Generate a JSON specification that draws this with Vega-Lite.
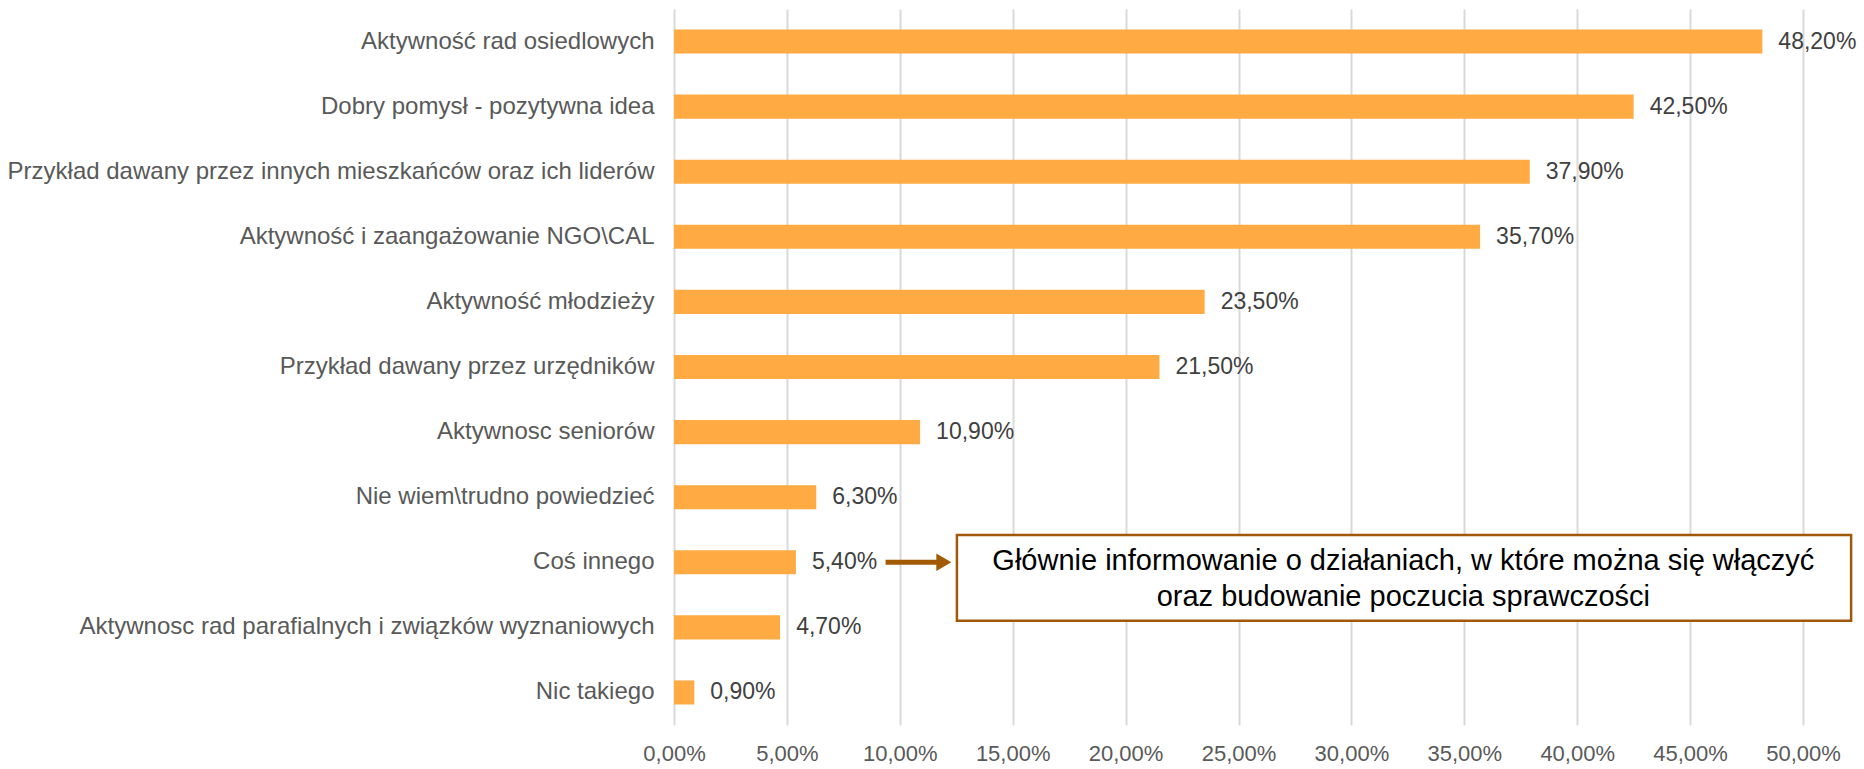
{
  "$schema": "https://vega.github.io/schema/vega-lite/v6.json",
  "width": 1129,
  "height": 716,
  "autosize": {"type": "none"},
  "padding": {"left": 674, "top": 9, "right": 61, "bottom": 44},
  "background": "white",
  "config": {
    "view": {"stroke": null},
    "font": "Liberation Sans",
    "locale": {"number": {"decimal": ",", "thousands": " ", "grouping": [3], "currency": ["", " zł"]}}
  },
  "resolve": {"scale": {"y": "independent"}, "axis": {"y": "independent"}},
  "layer": [
    {
      "data": {"values": [
        {"kategoria": "Aktywność rad osiedlowych", "wartosc": 0.482},
        {"kategoria": "Dobry pomysł - pozytywna idea", "wartosc": 0.425},
        {"kategoria": "Przykład dawany przez innych mieszkańców oraz ich liderów", "wartosc": 0.379},
        {"kategoria": "Aktywność i zaangażowanie NGO\\CAL", "wartosc": 0.357},
        {"kategoria": "Aktywność młodzieży", "wartosc": 0.235},
        {"kategoria": "Przykład dawany przez urzędników", "wartosc": 0.215},
        {"kategoria": "Aktywnosc seniorów", "wartosc": 0.109},
        {"kategoria": "Nie wiem\\trudno powiedzieć", "wartosc": 0.063},
        {"kategoria": "Coś innego", "wartosc": 0.054},
        {"kategoria": "Aktywnosc rad parafialnych i związków wyznaniowych", "wartosc": 0.047},
        {"kategoria": "Nic takiego", "wartosc": 0.009}
      ]},
      "encoding": {
        "y": {
          "field": "kategoria", "type": "nominal", "sort": null,
          "scale": {"paddingInner": 0.63, "paddingOuter": 0.315},
          "axis": {"title": null, "domain": false, "ticks": false, "labelFontSize": 24, "labelColor": "#595959", "labelPadding": 20, "labelLimit": 800, "labelFont": "Liberation Sans"}
        },
        "x": {
          "field": "wartosc", "type": "quantitative",
          "scale": {"domain": [0, 0.5], "nice": false},
          "axis": {"title": null, "format": ".2%", "values": [0, 0.05, 0.1, 0.15, 0.2, 0.25, 0.3, 0.35, 0.4, 0.45, 0.5], "labelOverlap": false, "labelFlush": false, "domain": false, "ticks": false, "grid": true, "gridColor": "#D9D9D9", "gridWidth": 2, "labelFontSize": 22, "labelColor": "#595959", "labelPadding": 18, "labelFont": "Liberation Sans"}
        }
      },
      "layer": [
        {"mark": {"type": "bar", "color": "#FFAA42"}},
        {"mark": {"type": "text", "align": "left", "baseline": "middle", "dx": 16, "fontSize": 23, "color": "#404040", "font": "Liberation Sans"},
         "encoding": {"text": {"field": "wartosc", "type": "quantitative", "format": ".2%"}}}
      ]
    },
    {
      "data": {"values": [{"opis": "adnotacja"}]},
      "layer": [
        {
          "mark": {"type": "rule", "color": "#A35A05", "strokeWidth": 5},
          "encoding": {
            "x": {"datum": 0.0937, "type": "quantitative"},
            "x2": {"datum": 0.117},
            "y": {"datum": 8.5, "type": "quantitative", "scale": {"domain": [0, 11], "reverse": true, "nice": false, "zero": false}, "axis": null}
          }
        },
        {
          "mark": {"type": "point", "shape": "triangle-right", "filled": true, "opacity": 1, "color": "#A35A05", "size": 300},
          "encoding": {
            "x": {"datum": 0.1195, "type": "quantitative"},
            "y": {"datum": 8.5, "type": "quantitative"}
          }
        },
        {
          "mark": {"type": "rect", "fill": "white", "stroke": "#A0590B", "strokeWidth": 2.5},
          "encoding": {
            "x": {"datum": 0.1253, "type": "quantitative"},
            "x2": {"datum": 0.5213},
            "y": {"datum": 8.08, "type": "quantitative"},
            "y2": {"datum": 9.40}
          }
        },
        {
          "mark": {"type": "text", "text": ["Głównie informowanie o działaniach, w które można się włączyć", "oraz budowanie poczucia sprawczości"], "align": "center", "baseline": "middle", "fontSize": 29, "lineHeight": 36, "color": "#000000", "font": "Liberation Sans"},
          "encoding": {
            "x": {"datum": 0.323, "type": "quantitative"},
            "y": {"datum": 8.48, "type": "quantitative"}
          }
        }
      ]
    }
  ]
}
